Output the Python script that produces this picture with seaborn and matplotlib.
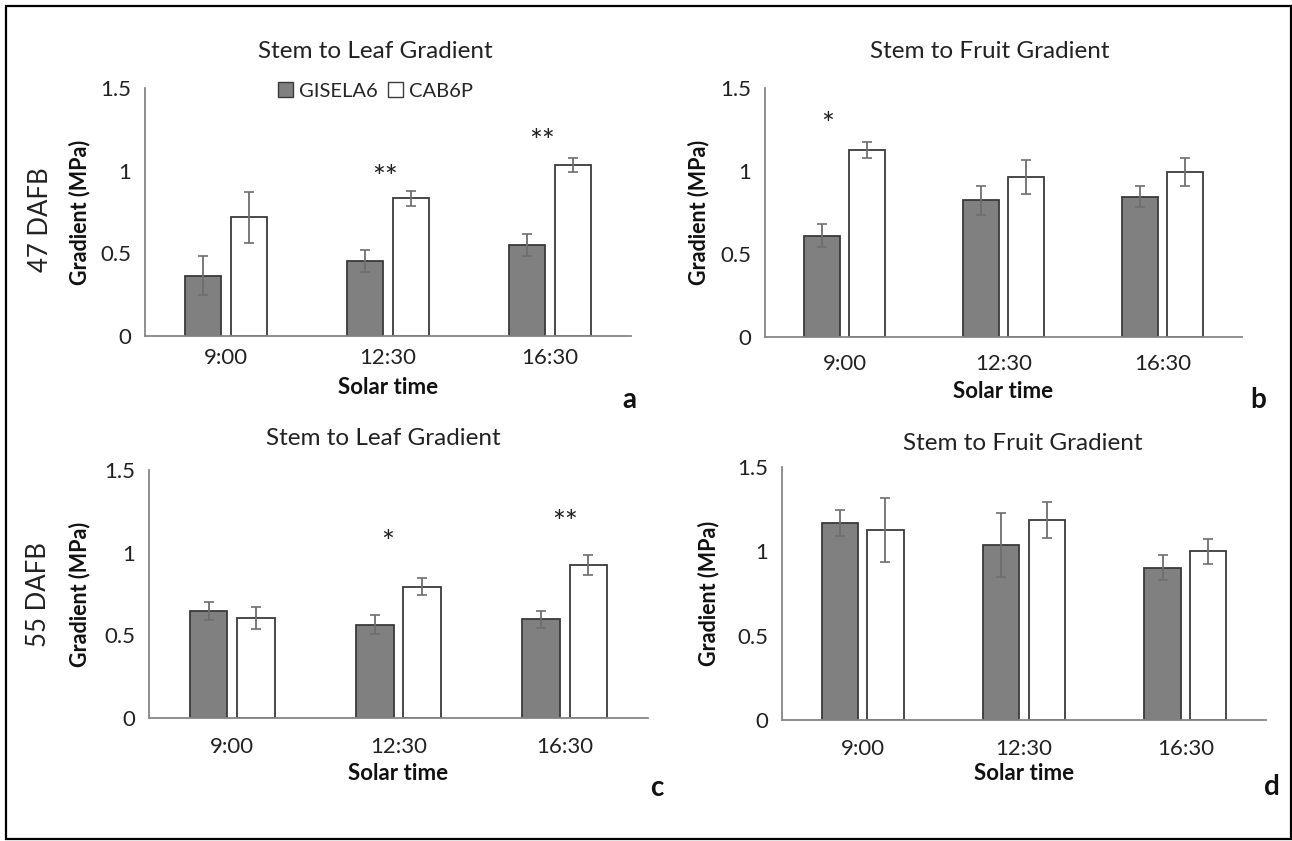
import matplotlib
matplotlib.use("Agg")
import matplotlib.pyplot as plt
import matplotlib.patches as mpatches
import numpy as np
import pandas as pd
import seaborn as sns

# ---------------- data ----------------
times = ["9:00", "12:30", "16:30"]
genotypes = ["GISELA6", "CAB6P"]

# 47 DAFB, stem to leaf (panel a)
a_gisela = [0.365, 0.456, 0.550]
a_gisela_err = [0.12, 0.067, 0.066]
a_cab = [0.718, 0.832, 1.034]
a_cab_err = [0.154, 0.047, 0.045]

# 47 DAFB, stem to fruit (panel b)
b_gisela = [0.610, 0.823, 0.845]
b_gisela_err = [0.068, 0.087, 0.062]
b_cab = [1.124, 0.964, 0.995]
b_cab_err = [0.048, 0.100, 0.085]

# 55 DAFB, stem to leaf (panel c)
c_gisela = [0.645, 0.565, 0.597]
c_gisela_err = [0.054, 0.056, 0.050]
c_cab = [0.605, 0.794, 0.925]
c_cab_err = [0.065, 0.052, 0.058]

# 55 DAFB, stem to fruit (panel d)
d_gisela = [1.168, 1.040, 0.903]
d_gisela_err = [0.076, 0.190, 0.073]
d_cab = [1.125, 1.186, 1.000]
d_cab_err = [0.190, 0.107, 0.075]

titles = ["Stem to Leaf Gradient", "Stem to Fruit Gradient",
          "Stem to Leaf Gradient", "Stem to Fruit Gradient"]
panel_letters = ["a", "b", "c", "d"]
row_labels = ["47 DAFB", "55 DAFB"]
xlabel = "Solar time"
ylabel = "Gradient (MPa)"

# significance marks: (time index, label, y value)
a_stars = [(1, "**", 0.956), (2, "**", 1.175)]
b_stars = [(0, "*", 1.277)]
c_stars = [(1, "*", 1.058), (2, "**", 1.18)]
d_stars = []

# ---------------- style ----------------
sns.set_theme(style="white")
plt.rcParams["font.family"] = ["Lato", "DejaVu Sans"]

W, H = 1292, 841
fig = plt.figure(figsize=(W / 100, H / 100), dpi=100)

def fx(px):
    return px / W

def fy(py):
    return 1 - py / H

# axes rectangles in pixel coords: left, right, top, bottom
rects = [(145, 631, 88, 336), (765, 1242, 88, 337),
         (149, 648, 470, 718), (782, 1266, 467, 720)]

panels = [
    (a_gisela, a_gisela_err, a_cab, a_cab_err, a_stars),
    (b_gisela, b_gisela_err, b_cab, b_cab_err, b_stars),
    (c_gisela, c_gisela_err, c_cab, c_cab_err, c_stars),
    (d_gisela, d_gisela_err, d_cab, d_cab_err, d_stars),
]

# star x offsets (category units) per panel
star_offsets = [[-0.02, -0.05], [-0.104], [-0.063, 0.0], []]

title_pos = [(375, 52), (990, 52), (383, 438), (1023, 443)]
ylabel_x = [80, 699, 80, 709]
tick_pad = [9, 12, 14, 14]
xlabel_y = [388, 391, 773, 773]
letter_pos = [(629, 400), (1258, 400), (657, 788), (1272, 787)]

gray = "#808080"
edge = "#3a3a3a"
spine_c = "#868686"
err_c = "#6e6e6e"

for i, (rect, (g, ge, c, ce, stars)) in enumerate(zip(rects, panels)):
    l, r, t, b = rect
    ax = fig.add_axes([fx(l), fy(b), fx(r - l), (b - t) / H])
    df = pd.DataFrame({
        "time": times * 2,
        "genotype": [genotypes[0]] * 3 + [genotypes[1]] * 3,
        "value": g + c,
    })
    sns.barplot(data=df, x="time", y="value", hue="genotype", order=times,
                hue_order=genotypes, palette=[gray, "white"], errorbar=None,
                width=0.566, gap=0.2, edgecolor=edge, linewidth=1.3,
                legend=False, ax=ax)
    for cont, errs in zip(ax.containers, [ge, ce]):
        xs = [p.get_x() + p.get_width() / 2 for p in cont.patches]
        ys = [p.get_height() for p in cont.patches]
        ax.errorbar(xs, ys, yerr=errs, fmt="none", ecolor=err_c,
                    elinewidth=1.3, capsize=3.5, capthick=1.2, zorder=5)
    for (k, lab, yv), off in zip(stars, star_offsets[i]):
        ax.text(k + off, yv, lab, ha="center", va="center", fontsize=22,
                color="#222222")
    ax.set_ylim(0, 1.5)
    ax.set_xlim(-0.5, 2.5)
    ax.set_yticks([0, 0.5, 1, 1.5])
    ax.set_yticklabels(["0", "0.5", "1", "1.5"])
    ax.tick_params(axis="both", length=0, labelsize=16, colors="#222222")
    ax.tick_params(axis="y", pad=10)
    ax.tick_params(axis="x", pad=tick_pad[i])
    ax.set_xlabel("")
    ax.set_ylabel("")
    for s in ["top", "right"]:
        ax.spines[s].set_visible(False)
    for s in ["left", "bottom"]:
        ax.spines[s].set_color(spine_c)
        ax.spines[s].set_linewidth(1.3)
    ax.set_facecolor("white")
    fig.text(fx(title_pos[i][0]), fy(title_pos[i][1]), titles[i],
             ha="center", va="center", fontsize=17.5, color="#222222")
    fig.text(fx(ylabel_x[i]), fy((t + b) / 2), ylabel, rotation=90,
             ha="center", va="center", fontsize=15.5, fontweight="bold",
             color="#111111")
    fig.text(fx((l + r) / 2), fy(xlabel_y[i]), xlabel, ha="center",
             va="center", fontsize=16, fontweight="bold", color="#111111")
    fig.text(fx(letter_pos[i][0]), fy(letter_pos[i][1]), panel_letters[i],
             ha="center", va="center", fontsize=20, fontweight="bold",
             color="#111111")
    if i == 0:
        handles = [mpatches.Patch(facecolor=gray, edgecolor=edge, linewidth=1.0),
                   mpatches.Patch(facecolor="white", edgecolor=edge, linewidth=1.0)]
        ax.legend(handles, genotypes, loc="center", bbox_to_anchor=(0.475, 0.988),
                  ncol=2, frameon=False, fontsize=14.5, handlelength=0.75,
                  handleheight=0.75, handletextpad=0.3, columnspacing=0.5,
                  borderaxespad=0, borderpad=0)

# row labels
fig.text(fx(40), fy(220), row_labels[0], rotation=90, ha="center", va="center",
         fontsize=18.5, color="#222222")
fig.text(fx(38), fy(595), row_labels[1], rotation=90, ha="center", va="center",
         fontsize=18.5, color="#222222")

# outer frame
fig.patches.append(mpatches.Rectangle((fx(6), fy(839)), fx(1285), 833 / H,
                                      transform=fig.transFigure, fill=False,
                                      edgecolor="black", linewidth=1.6))

fig.savefig("out.png", dpi=100, facecolor="white")
